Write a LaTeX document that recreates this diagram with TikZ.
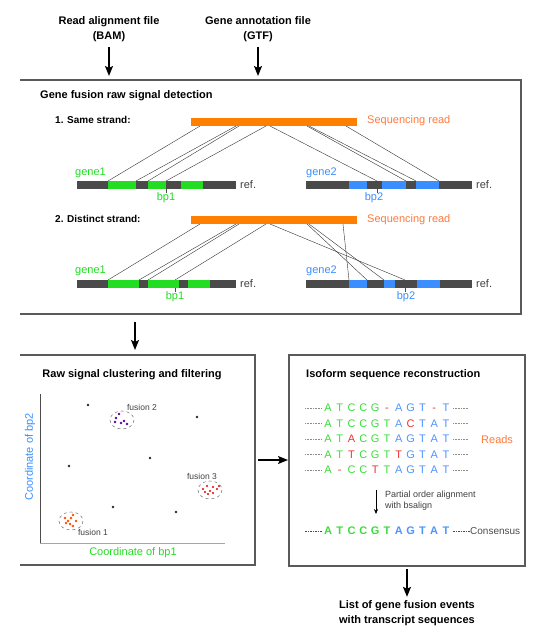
\documentclass[tikz,border=0pt]{standalone}
\usepackage{fontspec}
\setmainfont{Liberation Sans}
\usetikzlibrary{arrows.meta}
\definecolor{refgray}{HTML}{4A4A4A}
\definecolor{exongreen}{HTML}{22DD22}
\definecolor{exonblue}{HTML}{3A8EFF}
\definecolor{readorange}{HTML}{FF8000}
\definecolor{txtorange}{HTML}{FF7A3D}
\definecolor{sg}{HTML}{3ADD3A}
\definecolor{sb}{HTML}{4D94FF}
\definecolor{sr}{HTML}{EE3333}
\definecolor{framegray}{HTML}{5A5A5A}
\tikzset{
  big/.style={font=\bfseries\fontsize{11}{15}\selectfont, align=center},
  sub/.style={font=\bfseries\fontsize{10}{12}\selectfont, anchor=west, inner sep=0pt},
  lbl/.style={font=\fontsize{11}{13}\selectfont, inner sep=0pt},
  small/.style={font=\fontsize{8.5}{10}\selectfont, text=black!75, inner sep=0pt},
  base/.style={font=\fontsize{11}{13}\selectfont, inner sep=0pt, text height=7.9pt, text depth=0pt},
  arr/.style={line width=1.4pt, -{Stealth[length=10pt,width=8pt,inset=2pt]}},
  frame/.style={line width=1.1pt, draw=framegray},
  leader/.style={densely dotted, line width=0.6pt, black!45},
}

\begin{document}
\begin{tikzpicture}[x=1pt,y=-1pt]
			%%%%% START %%%%%
			\useasboundingbox (0,0) rectangle (534,638);
			
			% inputs
			\node[big] (bam) at (109,29) {Read alignment file\\(BAM)};
			\node[big] (gtf) at (258,29) {Gene annotation file\\(GTF)};
			\coordinate (p1a) at (109,76);
			\coordinate (p1b) at (258,76);
			\draw[arr, shorten <=2pt] (bam.south) -- (p1a);
			\draw[arr, shorten <=2pt] (gtf.south) -- (p1b);
			
			% panel 1
			\draw[frame] (20, 80) -- (521, 80) -- (521, 314) -- (20, 314);
			\node[big, anchor=west, inner sep=0pt] (t1) at (40, 96) {Gene fusion raw signal detection};
			
			%% same strand
			\node[sub] (same) at (55, 120) {1. Same strand:};
			\fill[readorange] (191, 118) rectangle (357, 126);
			\node[lbl, anchor=west, text=txtorange] (sr1) at (367, 121) {Sequencing read};
			
			\draw[black!80, line width=0.4pt] (200, 126) -- (108, 181);
			\draw[black!80, line width=0.4pt] (236, 126) -- (136, 181);
			\draw[black!80, line width=0.4pt] (239, 126) -- (148, 181);
			\draw[black!80, line width=0.4pt] (266, 126) -- (166, 181);
			\draw[black!80, line width=0.4pt] (270, 126) -- (377, 181);
			\draw[black!80, line width=0.4pt] (307, 126) -- (406, 181);
			\draw[black!80, line width=0.4pt] (309, 126) -- (416, 181);
			\draw[black!80, line width=0.4pt] (346, 126) -- (439, 181);
			
			\fill[refgray] (77, 181) rectangle (236, 189);
			\fill[exongreen] (108, 181) rectangle (136, 189);
			\fill[exongreen] (148, 181) rectangle (166, 189);
			\fill[exongreen] (181, 181) rectangle (203, 189);
			\fill[refgray] (306, 181) rectangle (472, 189);
			\fill[exonblue] (349, 181) rectangle (367, 189);
			\fill[exonblue] (382, 181) rectangle (406, 189);
			\fill[exonblue] (416, 181) rectangle (439, 189);
			
			\node[lbl, anchor=west, text=exongreen] (g1a) at (75, 173) {gene1};
			\node[lbl, anchor=west, text=exonblue] (g2a) at (306, 173) {gene2};
			\node[lbl, anchor=west, text=black!75] (ref1) at (240, 185) {ref.};
			\node[lbl, anchor=west, text=black!75] (ref2) at (476, 185) {ref.};
			\draw[refgray, line width=0.6pt] (166, 189) -- (166, 193);
			\draw[refgray, line width=0.6pt] (377, 189) -- (377, 193);
			\node[lbl, text=exongreen] (bp1a) at (166, 198) {bp1};
			\node[lbl, text=exonblue] (bp2a) at (374, 198) {bp2};
			
			%% distinct strand
			\node[sub] (dist) at (55, 219) {2. Distinct strand:};
			\fill[readorange] (191, 216) rectangle (357, 224);
			\node[lbl, anchor=west, text=txtorange] (sr2) at (367, 220) {Sequencing read};
			
			\draw[black!80, line width=0.4pt] (200, 224) -- (108, 280);
			\draw[black!80, line width=0.4pt] (236, 224) -- (139, 280);
			\draw[black!80, line width=0.4pt] (239, 224) -- (148, 280);
			\draw[black!80, line width=0.4pt] (266, 224) -- (175, 280);
			\draw[black!80, line width=0.4pt] (270, 224) -- (405, 280);
			\draw[black!80, line width=0.4pt] (307, 224) -- (367, 280);
			\draw[black!80, line width=0.4pt] (309, 224) -- (384, 280);
			\draw[black!80, line width=0.4pt] (343, 224) -- (349, 280);
			
			\fill[refgray] (77, 280) rectangle (236, 288);
			\fill[exongreen] (108, 280) rectangle (139, 288);
			\fill[exongreen] (148, 280) rectangle (179, 288);
			\fill[exongreen] (188, 280) rectangle (210, 288);
			\fill[refgray] (306, 280) rectangle (472, 288);
			\fill[exonblue] (349, 280) rectangle (367, 288);
			\fill[exonblue] (384, 280) rectangle (395, 288);
			\fill[exonblue] (417, 280) rectangle (440, 288);
			
			\node[lbl, anchor=west, text=exongreen] (g1b) at (75, 271) {gene1};
			\node[lbl, anchor=west, text=exonblue] (g2b) at (306, 271) {gene2};
			\node[lbl, anchor=west, text=black!75] (ref3) at (240, 284) {ref.};
			\node[lbl, anchor=west, text=black!75] (ref4) at (476, 284) {ref.};
			\draw[refgray, line width=0.6pt] (175, 288) -- (175, 292);
			\draw[refgray, line width=0.6pt] (405, 288) -- (405, 292);
			\node[lbl, text=exongreen] (bp1b) at (175, 297) {bp1};
			\node[lbl, text=exonblue] (bp2b) at (406, 297) {bp2};
			
			\coordinate (p1c) at (135, 314);
			\coordinate (p2a) at (135, 355);
			\draw[arr, shorten <=8pt, shorten >=5pt] (p1c) -- (p2a);
			
			% panel 2
			\draw[frame] (20, 355) -- (255, 355) -- (255, 565) -- (20, 565);
			\node[big] (t2) at (132, 375) {Raw signal clustering and filtering};
			\draw[line width=0.9pt, black!70] (40, 394) -- (40, 543);
			\draw[line width=0.9pt, black!35] (40, 543) -- (225, 543);
			\node[lbl, text=exonblue, rotate=90] (ax2) at (30, 457) {Coordinate of bp2};
			\node[lbl, text=exongreen] (ax1) at (133, 553) {Coordinate of bp1};
			
			\foreach \x/\y in {88/405, 197/417, 150/458, 69/466, 113/507, 176/512}
				\fill[black!85] (\x, \y) circle (1.3);
			
			\draw[dashed, black!50, line width=0.6pt] (122, 420) ellipse (12 and 9);
			\foreach \x/\y in {116/418, 119/414, 121/423, 124/421, 127/424, 115/422}
				\fill[violet!70!blue] (\x, \y) circle (1.3);
			\node[small] (f2) at (142, 407) {fusion 2};
			
			\draw[dashed, black!50, line width=0.6pt] (210, 490) ellipse (12 and 9);
			\foreach \x/\y in {203/489, 207/486, 210/491, 213/487, 217/489, 208/494, 213/493, 219/486, 205/492}
				\fill[red!90!black] (\x, \y) circle (1.2);
			\node[small] (f3) at (202, 476) {fusion 3};
			
			\draw[dashed, black!50, line width=0.6pt] (71, 521) ellipse (12 and 9);
			\foreach \x/\y in {65/518, 68/521, 71/518, 73/515, 70/524, 73/526, 76/521, 66/523}
				\fill[orange!60!red] (\x, \y) circle (1.3);
			\node[small] (f1) at (93, 532) {fusion 1};
			
			\coordinate (p2r) at (255, 460);
			\coordinate (p3l) at (289, 460);
			\draw[arr, shorten <=3pt, shorten >=1pt] (p2r) -- (p3l);
			
			% panel 3
			\draw[frame] (289, 355) rectangle (525, 566);
			\node[big, anchor=west, inner sep=0pt] (t3) at (306, 375) {Isoform sequence reconstruction};
			
			\foreach \row [count=\r from 0] in {
				{A/sg,T/sg,C/sg,C/sg,G/sg,-/sr,A/sb,G/sb,T/sb,-/sr,T/sb},
				{A/sg,T/sg,C/sg,C/sg,G/sg,T/sg,A/sb,C/sr,T/sb,A/sb,T/sb},
				{A/sg,T/sg,A/sr,C/sg,G/sg,T/sg,A/sb,G/sb,T/sb,A/sb,T/sb},
				{A/sg,T/sg,T/sr,C/sg,G/sg,T/sg,T/sr,G/sb,T/sb,A/sb,T/sb},
				{A/sg,-/sr,C/sg,C/sg,T/sr,T/sg,A/sb,G/sb,T/sb,A/sb,T/sb}}
			{
				\draw[leader] (305, {408+15.5*\r}) -- (322, {408+15.5*\r});
				\draw[leader] (453, {408+15.5*\r}) -- (468, {408+15.5*\r});
				\foreach \ch/\co [count=\i from 0] in \row
					\node[base, text=\co] (s\r-\i) at ({328+11.8*\i}, {408+15.5*\r}) {\ch};
			}
			\node[lbl, anchor=west, text=txtorange] (reads) at (481, 440) {Reads};
			
			\coordinate (pa) at (376, 490);
			\coordinate (pb) at (376, 514);
			\draw[line width=0.6pt, -{Stealth[length=5pt,width=4pt]}] (pa) -- (pb);
			\node[font=\fontsize{9}{11}\selectfont, text=black!75, align=left, anchor=west, inner sep=0pt] (po) at (385, 501) {Partial order alignment\\with bsalign};
			
			\draw[dashed, dash pattern=on 1.5pt off 1pt, line width=0.7pt, black!70] (305, 531) -- (322, 531);
			\foreach \ch/\co [count=\i from 0] in {A/sg,T/sg,C/sg,C/sg,G/sg,T/sg,A/sb,G/sb,T/sb,A/sb,T/sb}
				\node[base, font=\bfseries\fontsize{11}{13}\selectfont, text=\co] (c\i) at ({328+11.8*\i}, 531) {\ch};
			\draw[dashed, dash pattern=on 1.5pt off 1pt, line width=0.7pt, black!70] (453, 531) -- (470, 531);
			\node[lbl, anchor=west, font=\fontsize{10}{12}\selectfont, text=black!70] (cons) at (470, 531) {Consensus};
			
			% output
			\coordinate (p3b) at (407, 566);
			\node[big] (out) at (407, 613) {List of gene fusion events\\with transcript sequences};
			\draw[arr, shorten <=3pt] (p3b) -- (out.north);
			
			%%%%% END %%%%%
\end{tikzpicture}
\end{document}
